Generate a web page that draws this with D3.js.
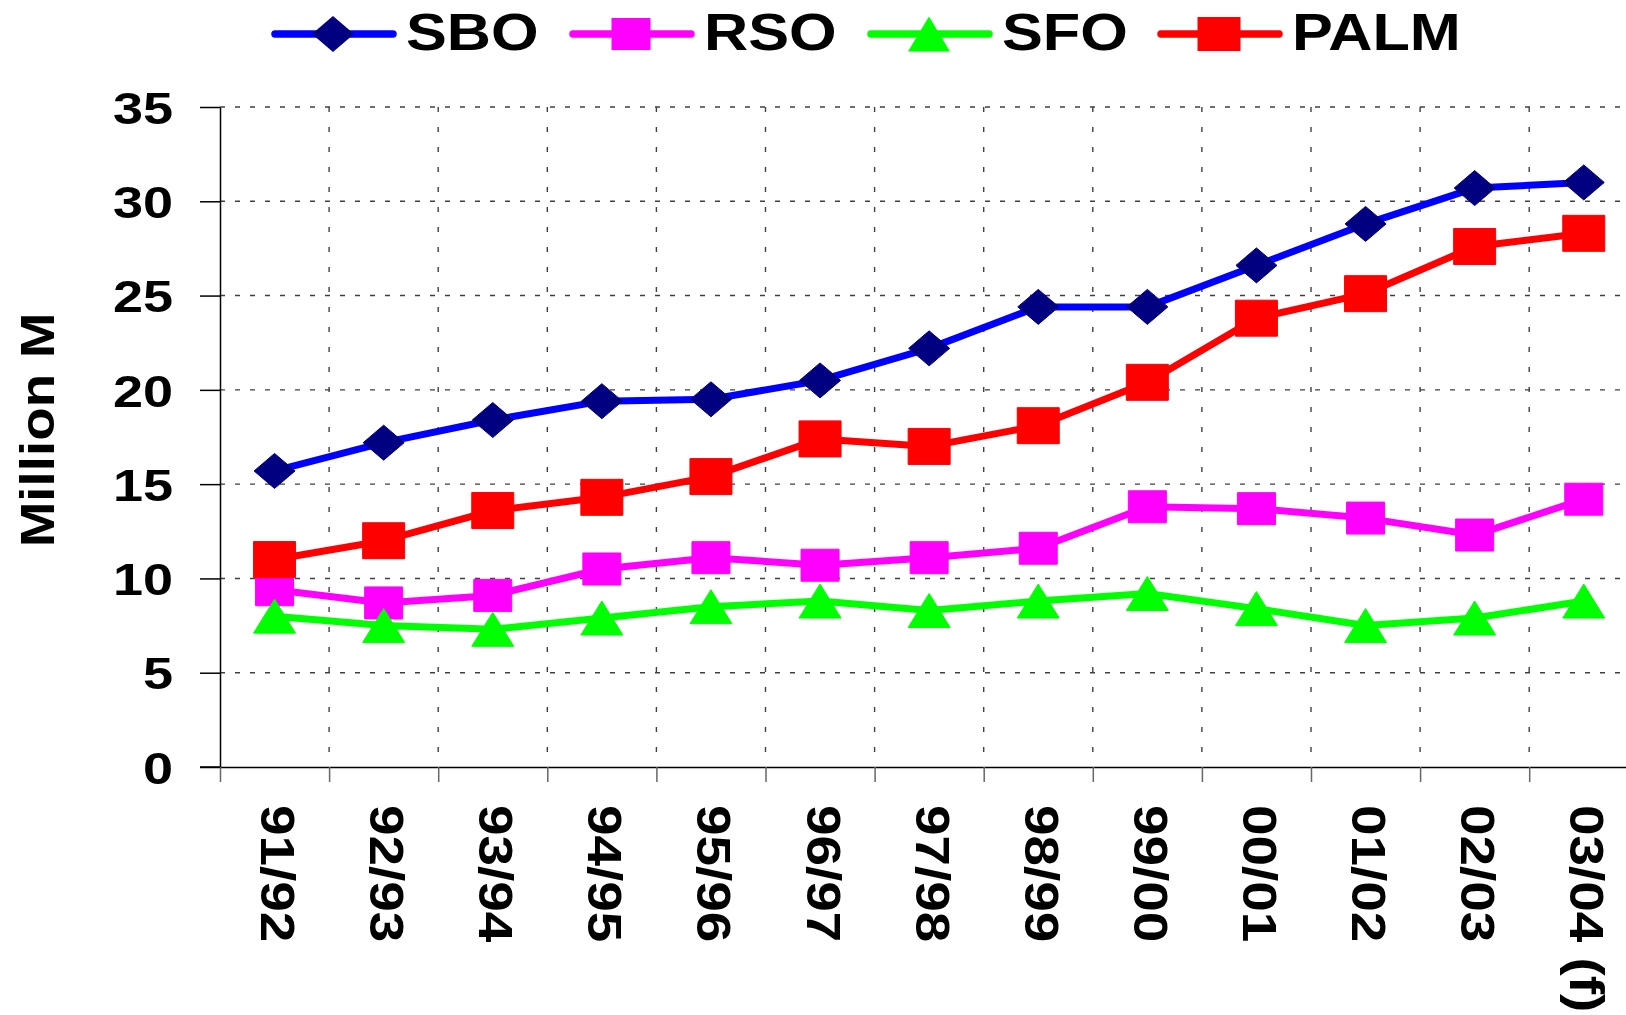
<!DOCTYPE html>
<html>
<head>
<meta charset="utf-8">
<script src="https://cdn.jsdelivr.net/npm/d3@7"></script>
<style>
  body { margin: 0; background: #fff; }
  svg { display: block; font-family: "Liberation Sans", Arial, sans-serif; font-weight: bold; }
</style>
</head>
<body>
<div id="chart"></div>
<script>
'use strict';

const seasons = ['91/92', '92/93', '93/94', '94/95', '95/96', '96/97', '97/98',
                 '98/99', '99/00', '00/01', '01/02', '02/03', '03/04 (f)'];
const sbo  = [15.7, 17.2, 18.4, 19.4, 19.5, 20.5, 22.2, 24.4, 24.4, 26.6, 28.8, 30.7, 31.0];
const rso  = [9.4, 8.7, 9.1, 10.5, 11.1, 10.7, 11.1, 11.6, 13.8, 13.7, 13.2, 12.3, 14.2];
const sfo  = [8.0, 7.5, 7.3, 7.9, 8.5, 8.8, 8.3, 8.8, 9.2, 8.4, 7.5, 7.9, 8.8];
const palm = [11.0, 12.0, 13.6, 14.3, 15.4, 17.4, 17.0, 18.1, 20.4, 23.8, 25.1, 27.6, 28.3];
const seriesNames = ['SBO', 'RSO', 'SFO', 'PALM'];
const yTicks = [0, 5, 10, 15, 20, 25, 30, 35];
const yTitle = 'Million M';

const width = 1626, height = 1015;
const plot = { left: 220, top: 107, bottom: 767, band: 109.1 };
plot.right = plot.left + plot.band * seasons.length;
const legendX = [275, 573, 871, 1161];

// line colour, marker colour, marker shape, marker w/h (plot), legend h
const styles = {
    SBO:  { line: '#0000ff', mark: '#000080', shape: 'diamond',  w: 41, h: 35, lw: 42, lh: 36 },
    RSO:  { line: '#ff00ff', mark: '#ff00ff', shape: 'square',   w: 38, h: 32, lw: 39, lh: 32 },
    SFO:  { line: '#00ff00', mark: '#00ff00', shape: 'triangle', w: 42, h: 34, lw: 42, lh: 35 },
    PALM: { line: '#ff0000', mark: '#ff0000', shape: 'square',   w: 42, h: 36, lw: 43, lh: 34 }
};
const values = { SBO: sbo, RSO: rso, SFO: sfo, PALM: palm };

function markerPath(shape, w, h) {
    const a = w / 2, b = h / 2;
    if (shape === 'diamond') return `M0,${-b}L${a},0L0,${b}L${-a},0Z`;
    if (shape === 'triangle') return `M0,${-b}L${a},${b}L${-a},${b}Z`;
    return `M${-a},${-b}H${a}V${b}H${-a}Z`;
}

const svg = d3.select('#chart').append('svg')
    .attr('width', width)
    .attr('height', height);

const x = d3.scaleBand()
    .domain(seasons)
    .range([plot.left, plot.right]);
const xEdge = d3.scaleLinear()
    .domain([0, seasons.length])
    .range([plot.left, plot.right]);
const y = d3.scaleLinear()
    .domain([0, 35])
    .range([plot.bottom, plot.top]);

// grid
svg.append('g')
    .selectAll('line')
    .data(yTicks.filter(d => d > 0))
    .enter().append('line')
    .attr('x1', plot.left).attr('x2', plot.right)
    .attr('y1', d => y(d)).attr('y2', d => y(d))
    .attr('stroke', '#404040')
    .attr('stroke-width', 1.4)
    .attr('stroke-dasharray', '5,10');

svg.append('g')
    .selectAll('line')
    .data(d3.range(1, seasons.length + 1))
    .enter().append('line')
    .attr('x1', d => xEdge(d)).attr('x2', d => xEdge(d))
    .attr('y1', plot.top).attr('y2', plot.bottom)
    .attr('stroke', '#404040')
    .attr('stroke-width', 1.4)
    .attr('stroke-dasharray', '5,15');

// y axis
const yAxis = svg.append('g')
    .attr('transform', `translate(${plot.left},0)`)
    .call(d3.axisLeft(y).tickValues(yTicks).tickSize(20).tickSizeOuter(0));
yAxis.select('.domain').attr('stroke', '#000').attr('stroke-width', 1.5);
yAxis.selectAll('.tick line').attr('stroke', '#000').attr('stroke-width', 1.5);
yAxis.selectAll('.tick text')
    .attr('x', -47 / 1.2)
    .attr('dy', '0.36em')
    .attr('transform', 'scale(1.2,1)')
    .style('font-size', '45px')
    .style('font-family', '"Liberation Sans", Arial, sans-serif')
    .style('font-weight', 'bold')
    .attr('fill', '#000');

// x axis
const xAxis = svg.append('g')
    .attr('transform', `translate(0,${plot.bottom})`)
    .call(d3.axisBottom(xEdge).ticks(seasons.length).tickSize(15).tickSizeOuter(0).tickFormat(''));
xAxis.select('.domain').attr('stroke', '#000').attr('stroke-width', 1.5);
xAxis.selectAll('.tick line').attr('stroke', '#666').attr('stroke-width', 1.5);

svg.append('line')
    .attr('x1', plot.left - 20).attr('x2', plot.left)
    .attr('y1', plot.bottom).attr('y2', plot.bottom)
    .attr('stroke', '#000').attr('stroke-width', 1.5);

svg.append('g')
    .selectAll('text')
    .data(seasons)
    .enter().append('text')
    .attr('transform', d => `translate(${x(d) + x.bandwidth() / 2 - 13.5},805) rotate(90) scale(1.12,1)`)
    .style('font-size', '49px')
    .text(d => d);

svg.append('text')
    .attr('transform', `translate(54,430) rotate(-90) scale(1.12,1)`)
    .attr('text-anchor', 'middle')
    .style('font-size', '49px')
    .text(yTitle);

// series
const line = d3.line()
    .x((d, i) => x(seasons[i]) + x.bandwidth() / 2)
    .y(d => y(d));

seriesNames.forEach(name => {
    const s = styles[name];
    svg.append('path')
        .datum(values[name])
        .attr('d', line)
        .attr('fill', 'none')
        .attr('stroke', s.line)
        .attr('stroke-width', 7)
        .attr('stroke-linejoin', 'round');
});

seriesNames.forEach(name => {
    const s = styles[name];
    svg.append('g')
        .selectAll('path')
        .data(values[name])
        .enter().append('path')
        .attr('transform', (d, i) => `translate(${x(seasons[i]) + x.bandwidth() / 2},${y(d)})`)
        .attr('d', markerPath(s.shape, s.w, s.h))
        .attr('fill', s.mark)
        .attr('stroke', s.mark)
        .attr('stroke-width', 1)
        .attr('stroke-linejoin', 'round');
});

// legend
seriesNames.forEach((name, i) => {
    const s = styles[name];
    const g = svg.append('g').attr('transform', `translate(${legendX[i]},34)`);
    g.append('line')
        .attr('x1', 0).attr('x2', 118)
        .attr('stroke', s.line)
        .attr('stroke-width', 7.5)
        .attr('stroke-linecap', 'round');
    g.append('path')
        .attr('transform', 'translate(58,0)')
        .attr('d', markerPath(s.shape, s.lw, s.lh))
        .attr('fill', s.mark);
    g.append('text')
        .attr('transform', 'translate(131,16) scale(1.2,1)')
        .style('font-size', '51px')
        .text(name);
});
</script>
</body>
</html>
